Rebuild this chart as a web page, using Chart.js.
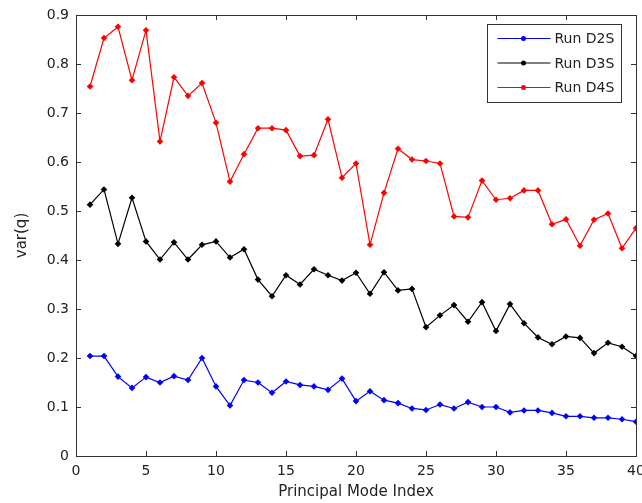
<!DOCTYPE html>
<html>
<head>
<meta charset="utf-8">
<script src="https://cdn.jsdelivr.net/npm/chart.js@4"></script>
<style>
  html, body { margin: 0; padding: 0; background: #fff; }
  #wrap { width: 642px; height: 503px; }
</style>
</head>
<body>
<div id="wrap"><canvas id="varChart" width="642" height="503"></canvas></div>
<script>
// mode index (x) and variance of each run
const modeIndex = [1, 2, 3, 4, 5, 6, 7, 8, 9, 10, 11, 12, 13, 14, 15, 16, 17, 18, 19, 20,
                   21, 22, 23, 24, 25, 26, 27, 28, 29, 30, 31, 32, 33, 34, 35, 36, 37, 38, 39, 40];

const runD2S = [0.204, 0.204, 0.162, 0.139, 0.161, 0.150, 0.163, 0.155, 0.200, 0.142,
                0.103, 0.155, 0.150, 0.129, 0.152, 0.145, 0.142, 0.135, 0.158, 0.112,
                0.132, 0.114, 0.108, 0.097, 0.094, 0.105, 0.097, 0.110, 0.100, 0.100,
                0.089, 0.093, 0.093, 0.088, 0.081, 0.081, 0.078, 0.078, 0.075, 0.070];

const runD3S = [0.513, 0.544, 0.433, 0.527, 0.438, 0.401, 0.436, 0.401, 0.431, 0.438,
                0.405, 0.422, 0.360, 0.326, 0.369, 0.350, 0.381, 0.369, 0.358, 0.374,
                0.331, 0.375, 0.338, 0.341, 0.263, 0.287, 0.308, 0.274, 0.314, 0.255,
                0.310, 0.271, 0.242, 0.228, 0.244, 0.241, 0.210, 0.231, 0.223, 0.204];

const runD4S = [0.754, 0.853, 0.876, 0.767, 0.869, 0.642, 0.773, 0.735, 0.761, 0.680,
                0.560, 0.616, 0.669, 0.669, 0.665, 0.612, 0.614, 0.687, 0.568, 0.597,
                0.431, 0.537, 0.627, 0.605, 0.602, 0.597, 0.489, 0.487, 0.562, 0.523,
                0.526, 0.542, 0.542, 0.473, 0.483, 0.429, 0.482, 0.495, 0.424, 0.465];

const seriesNames = ['Run D2S', 'Run D3S', 'Run D4S'];
const seriesColors = ['#0000ff', '#000000', '#ff0000'];

const xTicks = [0, 5, 10, 15, 20, 25, 30, 35, 40];
const yTicks = [0, 0.1, 0.2, 0.3, 0.4, 0.5, 0.6, 0.7, 0.8, 0.9];

const axisColor = '#333333';
const textColor = '#222222';
const fontFamily = '"DejaVu Sans", Verdana, sans-serif';

function toPoints(values) {
    return values.map((v, i) => ({ x: modeIndex[i], y: v }));
}

// box around the plot with inward ticks, matlab style
const boxPlugin = {
    id: 'boxPlugin',
    afterDraw(chart) {
        const ctx = chart.ctx;
        const area = chart.chartArea;
        const xs = chart.scales.x;
        const ys = chart.scales.y;
        const len = 5;
        ctx.save();
        ctx.strokeStyle = axisColor;
        ctx.lineWidth = 1;
        ctx.beginPath();
        xTicks.forEach(t => {
            const px = Math.round(xs.getPixelForValue(t)) + 0.5;
            ctx.moveTo(px, area.bottom);
            ctx.lineTo(px, area.bottom - len);
            ctx.moveTo(px, area.top);
            ctx.lineTo(px, area.top + len);
        });
        yTicks.forEach(t => {
            const py = Math.round(ys.getPixelForValue(t)) + 0.5;
            ctx.moveTo(area.left, py);
            ctx.lineTo(area.left + len, py);
            ctx.moveTo(area.right, py);
            ctx.lineTo(area.right - len, py);
        });
        ctx.stroke();
        ctx.strokeRect(Math.round(area.left) + 0.5, Math.round(area.top) + 0.5,
                       Math.round(area.right - area.left), Math.round(area.bottom - area.top));
        ctx.restore();
    }
};

// legend box inside the top right corner
const legendPlugin = {
    id: 'boxLegend',
    afterDraw(chart) {
        const ctx = chart.ctx;
        const area = chart.chartArea;
        const boxW = 134, boxH = 78;
        const bx = Math.round(area.right - 15 - boxW) + 0.5;
        const by = Math.round(area.top + 9) + 0.5;
        ctx.save();
        ctx.fillStyle = '#ffffff';
        ctx.fillRect(bx, by, boxW, boxH);
        ctx.strokeStyle = axisColor;
        ctx.lineWidth = 1;
        ctx.strokeRect(bx, by, boxW, boxH);
        ctx.font = '14px ' + fontFamily;
        ctx.textBaseline = 'middle';
        chart.data.datasets.forEach((ds, i) => {
            const y = by + 14 + i * 24.5;
            ctx.strokeStyle = ds.borderColor;
            ctx.beginPath();
            ctx.moveTo(bx + 10, y);
            ctx.lineTo(bx + 63, y);
            ctx.stroke();
            ctx.fillStyle = ds.borderColor;
            ctx.beginPath();
            ctx.arc(bx + 36, y, 2.5, 0, Math.PI * 2);
            ctx.fill();
            ctx.fillStyle = textColor;
            ctx.fillText(ds.label, bx + 67, y + 1);
        });
        ctx.restore();
    }
};

const ctx = document.getElementById('varChart').getContext('2d');

const chart = new Chart(ctx, {
    type: 'line',
    data: {
        datasets: [runD2S, runD3S, runD4S].map((vals, i) => ({
            label: seriesNames[i],
            data: toPoints(vals),
            borderColor: seriesColors[i],
            backgroundColor: seriesColors[i],
            borderWidth: 1.2,
            pointStyle: 'rectRot',
            pointRadius: 3.3,
            pointBorderWidth: 0,
            tension: 0,
            fill: false
        }))
    },
    options: {
        responsive: false,
        animation: false,
        devicePixelRatio: 1,
        layout: { padding: { top: 15, right: 6, left: 0, bottom: 0 } },
        plugins: {
            legend: { display: false },
            tooltip: { enabled: false }
        },
        scales: {
            x: {
                type: 'linear',
                min: 0,
                max: 40,
                afterBuildTicks: scale => { scale.ticks = xTicks.map(v => ({ value: v })); },
                afterFit: scale => {
                    scale.height = 47;
                    scale.paddingLeft = 0;
                    scale.paddingRight = 0;
                },
                grid: { display: false, drawTicks: false },
                border: { display: false },
                ticks: {
                    color: textColor,
                    padding: 7,
                    maxRotation: 0,
                    font: { family: fontFamily, size: 14 }
                },
                title: {
                    display: true,
                    text: 'Principal Mode Index',
                    color: textColor,
                    padding: { top: 0, bottom: 2 },
                    font: { family: fontFamily, size: 15 }
                }
            },
            y: {
                min: 0,
                max: 0.9,
                afterBuildTicks: scale => { scale.ticks = yTicks.map(v => ({ value: v })); },
                afterFit: scale => {
                    scale.width = 76;
                    scale.paddingTop = 0;
                    scale.paddingBottom = 0;
                },
                grid: { display: false, drawTicks: false },
                border: { display: false },
                ticks: {
                    color: textColor,
                    padding: 7,
                    font: { family: fontFamily, size: 14 }
                },
                title: {
                    display: true,
                    text: 'var(q)',
                    color: textColor,
                    padding: { top: 13, bottom: 0 },
                    font: { family: fontFamily, size: 15 }
                }
            }
        }
    },
    plugins: [boxPlugin, legendPlugin]
});
</script>
</body>
</html>
